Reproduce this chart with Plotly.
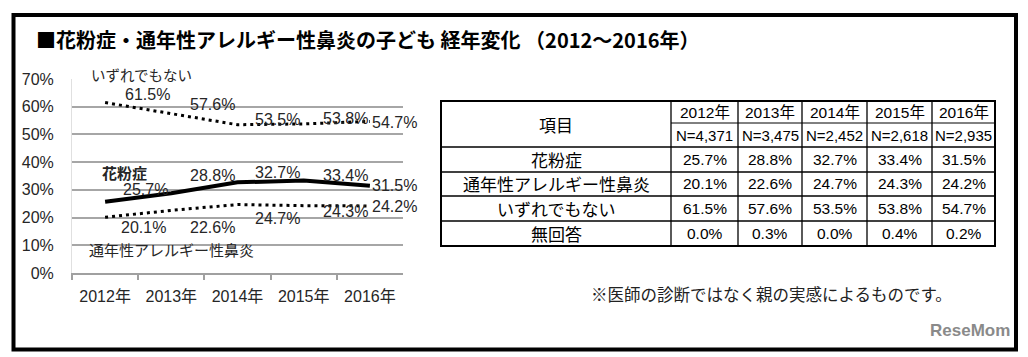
import plotly.graph_objects as go

# ---------------- data ----------------
years = ["2012年", "2013年", "2014年", "2015年", "2016年"]
n_labels = ["N=4,371", "N=3,475", "N=2,452", "N=2,618", "N=2,935"]
kafun = [25.7, 28.8, 32.7, 33.4, 31.5]          # 花粉症
tsunen = [20.1, 22.6, 24.7, 24.3, 24.2]         # 通年性アレルギー性鼻炎
izure = [61.5, 57.6, 53.5, 53.8, 54.7]          # いずれでもない
mukaito = [0.0, 0.3, 0.0, 0.4, 0.2]             # 無回答
row_names = ["花粉症", "通年性アレルギー性鼻炎", "いずれでもない", "無回答"]
y_ticks = [0, 10, 20, 30, 40, 50, 60, 70]
y_tick_text = ["0%", "10%", "20%", "30%", "40%", "50%", "60%", "70%"]

title = "■花粉症・通年性アレルギー性鼻炎の子ども 経年変化 （2012～2016年）"
note = "※医師の診断ではなく親の実感によるものです。"

# ---------------- styles / positions ----------------
W, H = 1028, 357
def px(x):
    return x / W
def py(y):
    return 1 - y / H

JP = "Noto Sans CJK JP"
NUM = "Liberation Sans, Arial, Noto Sans CJK JP"

# label offsets (screen px, right / down)
off_izure = [(42, -8), (41, -9), (40, -5), (42, -5), (25, 1)]
off_kafun = [(40, -12), (41, -18), (40, -10), (42, -5), (25, 0)]
off_tsunen = [(38, 10), (41, 17), (40, 14), (42, 6), (25, 1)]

fig = go.Figure()
fig.add_trace(go.Scatter(x=years, y=izure, mode="lines",
                         line=dict(color="black", width=3, dash="3px,4px"),
                         showlegend=False, hoverinfo="skip"))
fig.add_trace(go.Scatter(x=years, y=tsunen, mode="lines",
                         line=dict(color="black", width=3, dash="3px,4px"),
                         showlegend=False, hoverinfo="skip"))
fig.add_trace(go.Scatter(x=years, y=kafun, mode="lines",
                         line=dict(color="black", width=4),
                         showlegend=False, hoverinfo="skip"))

ann = []
def note_at(x, y, text, font, xanchor="center", **kw):
    d = dict(x=x, y=y, xref="paper", yref="paper", text=text, showarrow=False,
             xanchor=xanchor, yanchor="middle", font=font)
    d.update(kw)
    ann.append(d)

for vals, offs in ((izure, off_izure), (kafun, off_kafun), (tsunen, off_tsunen)):
    for yr, v, (dx, dy) in zip(years, vals, offs):
        ann.append(dict(x=yr, y=v, xref="x", yref="y", text=f"{v:.1f}%",
                        showarrow=False, xshift=dx, yshift=-dy,
                        xanchor="center", yanchor="middle",
                        font=dict(family=NUM, size=16, color="#262626")))

# series names
note_at(px(89), py(74), "いずれでもない",
        dict(family=JP, size=14.5, color="#262626"), xanchor="left")
note_at(px(100), py(172), "<b>花粉症</b>",
        dict(family=JP, size=15, color="#262626"), xanchor="left")
note_at(px(87), py(250), "通年性アレルギー性鼻炎",
        dict(family=JP, size=15, color="#262626"), xanchor="left")

# title, note, logo
note_at(px(34), py(39), "<b>" + title + "</b>",
        dict(family=JP, size=20, color="black"), xanchor="left")
note_at(px(771), py(294), note, dict(family=JP, size=16.5, color="#222"))
note_at(px(1012), py(330), "<b>ReseMom</b>",
        dict(family="Liberation Sans, Arial", size=17, color="#8a8a8a"), xanchor="right")

# ---------------- table (shapes + text) ----------------
col_x = [441, 671, 738, 802, 867, 932, 995]
row_y = [101, 123, 147, 172, 196, 221, 246]
shapes = []
shapes.append(dict(type="rect", xref="paper", yref="paper",
                   x0=px(col_x[0]), x1=px(col_x[-1]), y0=py(row_y[0]), y1=py(row_y[-1]),
                   line=dict(color="black", width=2)))
for cx in col_x[1:-1]:
    shapes.append(dict(type="line", xref="paper", yref="paper",
                       x0=px(cx), x1=px(cx), y0=py(row_y[0]), y1=py(row_y[-1]),
                       line=dict(color="black", width=1.3)))
shapes.append(dict(type="line", xref="paper", yref="paper",
                   x0=px(col_x[1]), x1=px(col_x[-1]), y0=py(row_y[1]), y1=py(row_y[1]),
                   line=dict(color="black", width=1)))
for ry in row_y[2:-1]:
    shapes.append(dict(type="line", xref="paper", yref="paper",
                       x0=px(col_x[0]), x1=px(col_x[-1]), y0=py(ry), y1=py(ry),
                       line=dict(color="black", width=1.5)))

def cx_mid(i):
    return px((col_x[i] + col_x[i + 1]) / 2)
def ry_mid(j):
    return py((row_y[j] + row_y[j + 1]) / 2)

note_at(cx_mid(0), py((row_y[0] + row_y[2]) / 2), "項目",
        dict(family=JP, size=17, color="black"))
for i, (yr, n) in enumerate(zip(years, n_labels)):
    note_at(cx_mid(i + 1), ry_mid(0), yr, dict(family=NUM, size=15.5, color="black"))
    note_at(cx_mid(i + 1), ry_mid(1), n, dict(family=NUM, size=15, color="black"))
rows = [kafun, tsunen, izure, mukaito]
for j, (name, vals) in enumerate(zip(row_names, rows)):
    note_at(cx_mid(0), ry_mid(j + 2), name, dict(family=JP, size=17, color="black"))
    for i, v in enumerate(vals):
        note_at(cx_mid(i + 1), ry_mid(j + 2), f"{v:.1f}%",
                dict(family=NUM, size=15.5, color="black"))

shapes.append(dict(type="rect", xref="paper", yref="paper",
                   x0=px(13.5), x1=px(1016), y0=py(15), y1=py(349.5),
                   line=dict(color="black", width=4)))

fig.update_layout(
    template="none",
    width=W, height=H,
    margin=dict(l=0, r=0, t=0, b=0, pad=0, autoexpand=False),
    paper_bgcolor="white", plot_bgcolor="white",
    showlegend=False,
    annotations=ann, shapes=shapes,
    xaxis=dict(domain=[px(72), px(403)], type="category", automargin=False,
               range=[-0.5, 4.5], autorange=False,
               showgrid=False, showline=True, linecolor="#a0a0a0", linewidth=1.5,
               ticks="outside", ticklen=5, tickcolor="#a0a0a0", tickwidth=1.5,
               tickson="boundaries", ticklabelstandoff=8,
               tickfont=dict(family=NUM, size=16, color="#262626"), fixedrange=True),
    yaxis=dict(domain=[py(273), py(79)], range=[0, 70], automargin=False,
               tickmode="array", tickvals=y_ticks, ticktext=y_tick_text,
               showgrid=True, gridcolor="#a6a6a6", gridwidth=1.5,
               zeroline=False, showline=True, linecolor="#e0e0e0", linewidth=1,
               ticks="", ticklabelstandoff=14,
               tickfont=dict(family=NUM, size=16, color="#262626"), fixedrange=True),
)

fig.write_html("out.html", config={"displayModeBar": False},
               post_script="document.body.style.margin='0';document.body.style.overflow='hidden';")
